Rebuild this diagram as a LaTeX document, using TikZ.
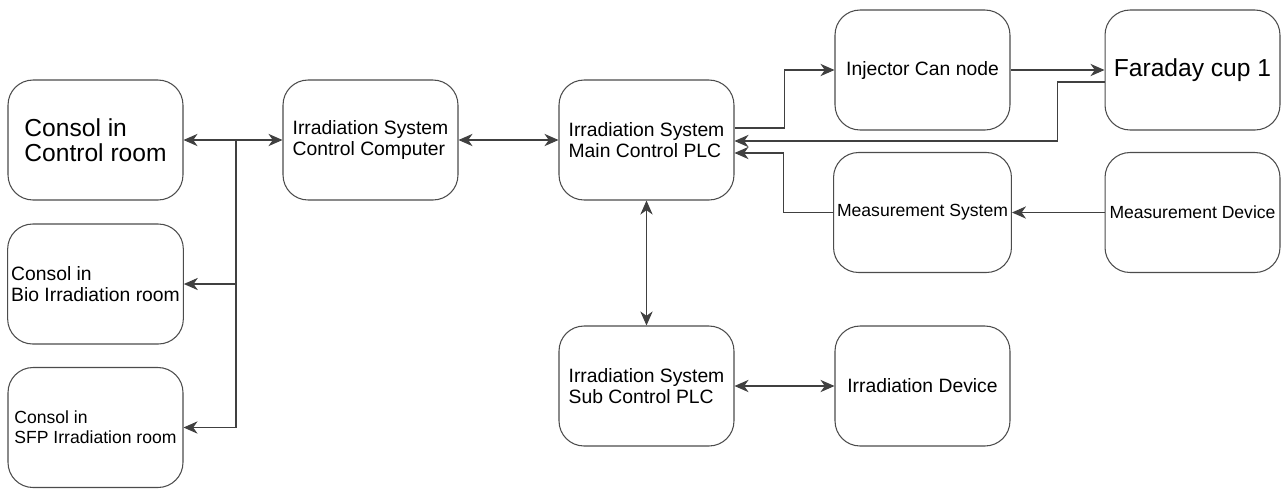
\documentclass[tikz,border=0pt]{standalone}
\usepackage{fontspec}
\setmainfont{Liberation Sans}
\usetikzlibrary{arrows.meta, positioning, calc}

\begin{document}
\begin{tikzpicture}[
  x=0.02cm, y=-0.02cm,
  unit/.style={rectangle, rounded corners=0.5cm, draw=black!70, line width=0.6pt, fill=white, minimum width=3.5cm, minimum height=2.4cm, align=left, inner sep=2pt, font=\fontsize{11}{12}\selectfont},
  bigtxt/.style={font=\fontsize{14}{14.5}\selectfont},
  smalltxt/.style={font=\fontsize{10}{11.5}\selectfont},
  arr/.style={-{Stealth[length=8pt, width=7pt, inset=2.5pt]}, draw=black!75, line width=0.6pt},
  dblarr/.style={{Stealth[length=8pt, width=7pt, inset=2.5pt]}-{Stealth[length=8pt, width=7pt, inset=2.5pt]}, draw=black!75, line width=0.6pt},
]
\useasboundingbox (0,0) rectangle (1282,488);

% consoles
\node[unit, bigtxt]   (ctrl) at (95.5,140)   {Consol in\\Control room};
\node[unit]           (bio)  at (95.5,284)   {Consol in\\Bio Irradiation room};
\node[unit, smalltxt] (sfp)  at (95.5,427.5) {Consol in\\SFP Irradiation room};

% control chain
\node[unit] (comp) at (370.5,140) {Irradiation System\\Control Computer};
\node[unit] (plc)  at (646.5,140) {Irradiation System\\Main Control PLC};
\node[unit] (sub)  at (646.5,386) {Irradiation System\\Sub Control PLC};
\node[unit] (idev) at (922.5,386) {Irradiation Device};

% beam line side
\node[unit]           (inj)  at (922.5,70)    {Injector Can node};
\node[unit, bigtxt]   (fc)   at (1192.5,70)   {Faraday cup 1};
\node[unit, smalltxt] (msys) at (922.5,212.5) {Measurement System};
\node[unit, smalltxt] (mdev) at (1192.5,212.5) {Measurement Device};

% console bus
\coordinate (jct) at (236,140);
\draw[dblarr] (ctrl.east) -- (comp.west);
\draw[arr] (jct) |- (bio.east);
\draw[arr] (jct) |- (sfp.east);

\draw[dblarr] (comp.east) -- (plc.west);
\draw[dblarr] (plc.south) -- (sub.north);
\draw[dblarr] (sub.east) -- (idev.west);

% PLC <-> beam line
\draw[arr] ($(plc.east)+(0,-12)$) -- ++(50,0) |- (inj.west);
\draw[arr] (inj.east) -- (fc.west);
\draw[arr] ($(fc.west)+(0,12)$) -- ++(-47,0) |- ($(plc.east)+(0,1)$);
\draw[arr] (msys.west) -- ++(-50,0) |- ($(plc.east)+(0,13)$);
\draw[arr] (mdev.west) -- (msys.east);
\end{tikzpicture}
\end{document}
